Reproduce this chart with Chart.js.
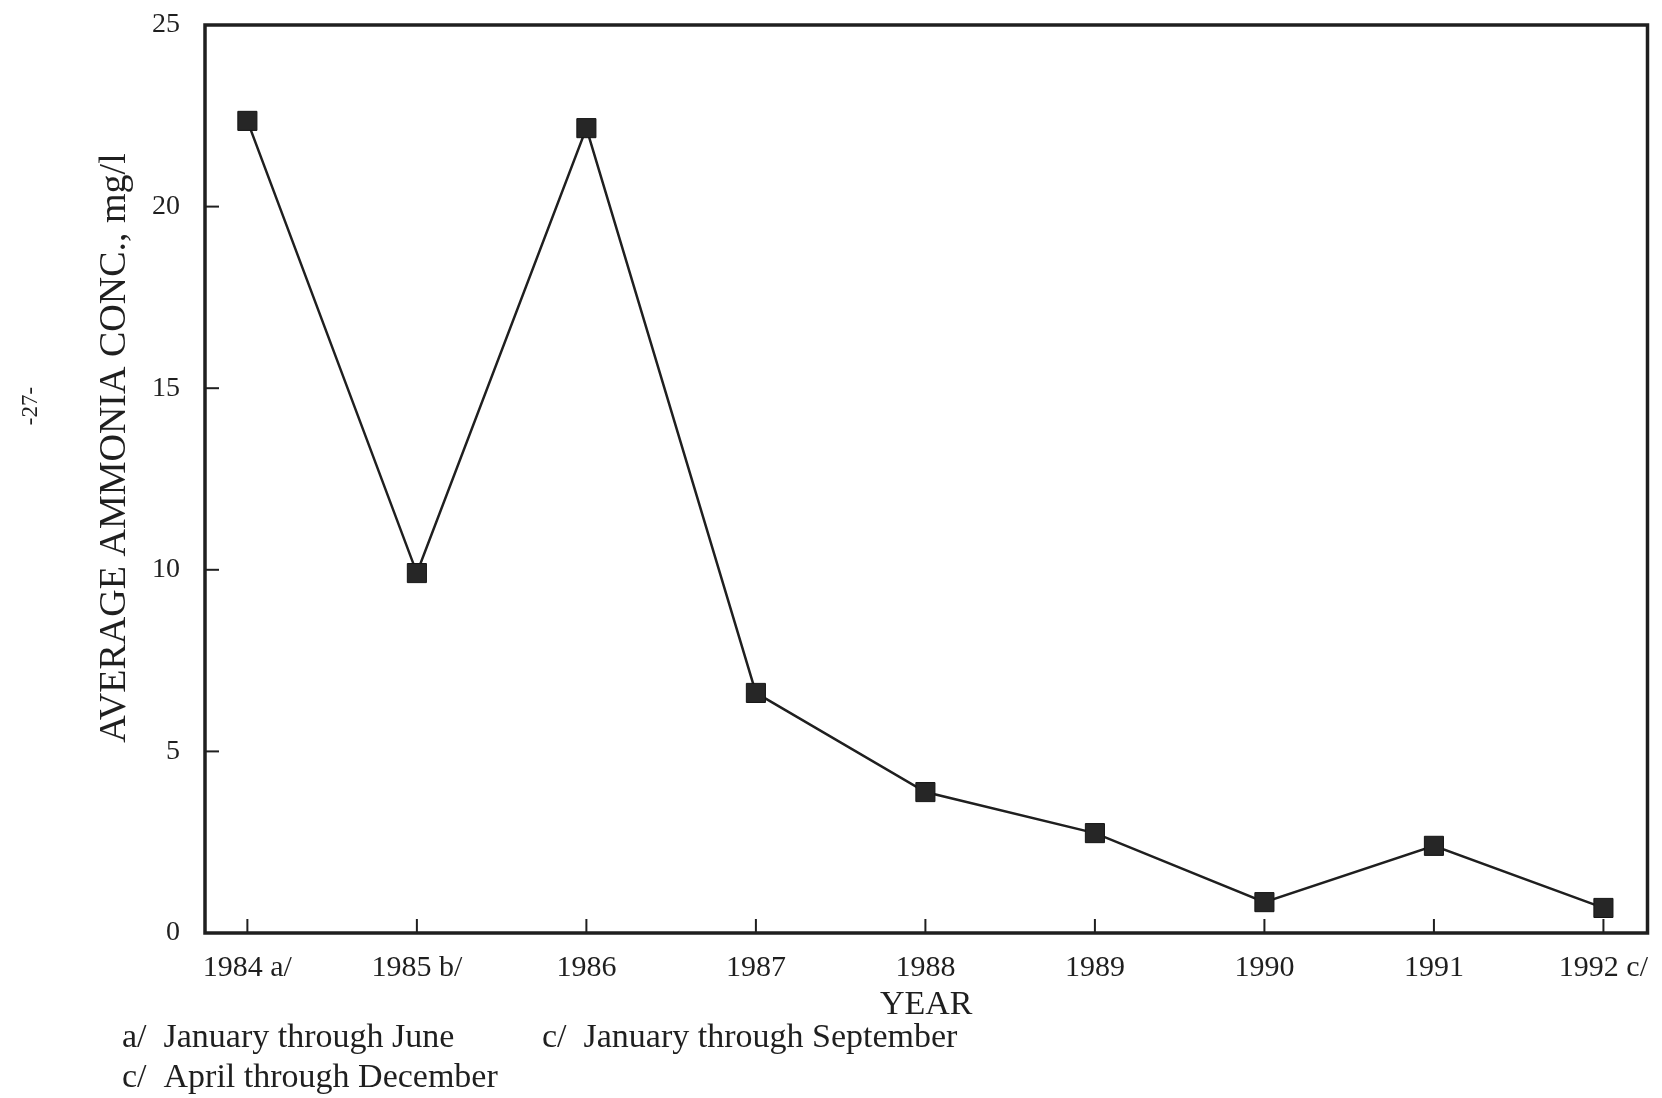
<!DOCTYPE html>
<html>
<head>
<meta charset="utf-8">
<title>Average Ammonia Concentration</title>
<script src="https://cdn.jsdelivr.net/npm/chart.js@4.4.0/dist/chart.umd.min.js"></script>
<style>
    html, body {
        margin: 0;
        padding: 0;
        background: #ffffff;
    }
    .wrap {
        width: 1662px;
        height: 1098px;
    }
</style>
</head>
<body>
<div class="wrap">
    <canvas id="ammoniaChart" width="1662" height="1098"></canvas>
</div>
<script>
    // Yearly averages
    const yearLabels = ['1984 a/', '1985 b/', '1986', '1987', '1988', '1989', '1990', '1991', '1992 c/'];
    const ammonia = [22.36, 9.91, 22.16, 6.61, 3.88, 2.75, 0.85, 2.40, 0.69];
    const yTicks = [0, 5, 10, 15, 20, 25];

    const yTitle = 'AVERAGE AMMONIA CONC., mg/l';
    const xTitle = 'YEAR';
    const pageNo = '-27-';
    const notesLeft = ['a/  January through June', 'c/  April through December'];
    const notesRight = ['c/  January through September'];

    const serif = "'Liberation Serif', 'DejaVu Serif', serif";
    const ink = '#1f1f1f';

    // box around the plot, inward tick marks and the loose text
    const plotDecor = {
        id: 'plotDecor',
        beforeDatasetsDraw(chart) {
            const { ctx, chartArea: a, scales } = chart;
            ctx.save();
            ctx.strokeStyle = ink;
            ctx.lineWidth = 2;
            yearLabels.forEach((_, i) => {
                const x = scales.x.getPixelForValue(i);
                ctx.beginPath();
                ctx.moveTo(x, a.bottom);
                ctx.lineTo(x, a.bottom - 14);
                ctx.stroke();
            });
            yTicks.forEach(v => {
                const y = scales.y.getPixelForValue(v);
                ctx.beginPath();
                ctx.moveTo(a.left, y);
                ctx.lineTo(a.left + 14, y);
                ctx.stroke();
            });
            ctx.restore();
        },
        afterDraw(chart) {
            const { ctx, chartArea: a } = chart;
            ctx.save();
            ctx.strokeStyle = ink;
            ctx.lineWidth = 3.5;
            ctx.strokeRect(a.left, a.top, a.right - a.left, a.bottom - a.top);

            ctx.fillStyle = ink;
            ctx.textBaseline = 'middle';

            ctx.textAlign = 'center';
            ctx.font = '34px ' + serif;
            ctx.fillText(xTitle, (a.left + a.right) / 2, a.bottom + 72);

            ctx.textAlign = 'left';
            ctx.font = '34px ' + serif;
            notesLeft.forEach((t, i) => ctx.fillText(t, 122, a.bottom + 105 + i * 40));
            notesRight.forEach((t, i) => ctx.fillText(t, 542, a.bottom + 105 + i * 40));

            ctx.textAlign = 'center';
            ctx.save();
            ctx.translate(115, 448);
            ctx.rotate(-Math.PI / 2);
            ctx.font = '38px ' + serif;
            ctx.fillText(yTitle, 0, 0);
            ctx.restore();

            ctx.save();
            ctx.translate(31, 406);
            ctx.rotate(-Math.PI / 2);
            ctx.font = '23px ' + serif;
            ctx.fillText(pageNo, 0, 0);
            ctx.restore();

            ctx.restore();
        }
    };

    const ctx = document.getElementById('ammoniaChart').getContext('2d');
    const chart = new Chart(ctx, {
        type: 'line',
        data: {
            datasets: [{
                data: yearLabels.map((_, i) => ({ x: i, y: ammonia[i] })),
                borderColor: ink,
                borderWidth: 2.5,
                pointStyle: 'rect',
                pointRadius: 13.5,
                pointBackgroundColor: '#262626',
                pointBorderColor: '#151515',
                pointBorderWidth: 1,
                tension: 0,
                fill: false
            }]
        },
        options: {
            responsive: false,
            animation: false,
            layout: { padding: { left: 0, top: 25, right: 10, bottom: 0 } },
            plugins: {
                legend: { display: false },
                tooltip: { enabled: false }
            },
            scales: {
                x: {
                    type: 'linear',
                    min: -0.25,
                    max: 8.26,
                    grid: { display: false, drawTicks: false },
                    border: { display: false },
                    afterBuildTicks(scale) {
                        scale.ticks = yearLabels.map((_, i) => ({ value: i }));
                    },
                    afterFit(scale) {
                        scale.height = 165;
                        scale.paddingLeft = 0;
                        scale.paddingRight = 0;
                    },
                    ticks: {
                        autoSkip: false,
                        maxRotation: 0,
                        padding: 17,
                        color: ink,
                        font: { family: serif, size: 30 },
                        callback: v => yearLabels[v]
                    }
                },
                y: {
                    min: 0,
                    max: 25,
                    grid: { display: false, drawTicks: false },
                    border: { display: false },
                    afterBuildTicks(scale) {
                        scale.ticks = yTicks.map(v => ({ value: v }));
                    },
                    afterFit(scale) {
                        scale.width = 205;
                        scale.paddingTop = 0;
                        scale.paddingBottom = 0;
                    },
                    ticks: {
                        padding: 25,
                        color: ink,
                        font: { family: serif, size: 28 }
                    }
                }
            }
        },
        plugins: [plotDecor]
    });
</script>
</body>
</html>
